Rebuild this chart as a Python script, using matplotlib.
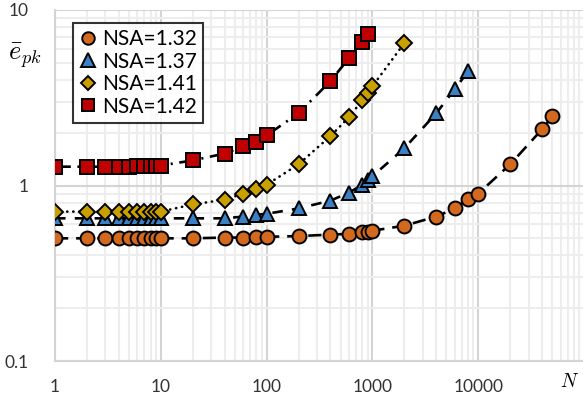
import numpy as np
import matplotlib
matplotlib.use('Agg')
import matplotlib.pyplot as plt
from matplotlib.lines import Line2D
from matplotlib.ticker import LogLocator, FixedLocator, NullFormatter

# data
n_low = [1, 2, 3, 4, 5, 6, 7, 8, 9, 10, 20, 40, 60, 80, 100, 200, 400, 600, 800, 900, 1000]

n_132 = n_low + [2000, 4000, 6000, 8000, 10000, 20000, 40000, 50000]
e_132 = [0.50, 0.50, 0.50, 0.50, 0.50, 0.50, 0.50, 0.50, 0.50, 0.50,
         0.50, 0.505, 0.505, 0.51, 0.51, 0.515, 0.525, 0.53, 0.54, 0.546, 0.553,
         0.59, 0.665, 0.74, 0.84, 0.90, 1.32, 2.09, 2.48]

n_137 = n_low + [2000, 4000, 6000, 8000]
e_137 = [0.65, 0.65, 0.65, 0.65, 0.65, 0.65, 0.65, 0.65, 0.65, 0.65,
         0.65, 0.65, 0.665, 0.68, 0.69, 0.74, 0.82, 0.91, 1.01, 1.08, 1.13,
         1.63, 2.58, 3.54, 4.48]

n_141 = n_low + [2000]
e_141 = [0.71, 0.71, 0.71, 0.71, 0.71, 0.71, 0.71, 0.71, 0.71, 0.71,
         0.78, 0.83, 0.90, 0.95, 1.01, 1.32, 1.91, 2.45, 3.06, 3.36, 3.68,
         6.48]

n_142 = [1, 2, 3, 4, 5, 6, 7, 8, 9, 10, 20, 40, 60, 80, 100, 200, 400, 600, 800, 900]
e_142 = [1.28, 1.28, 1.28, 1.28, 1.28, 1.29, 1.29, 1.29, 1.30, 1.30,
         1.39, 1.52, 1.67, 1.78, 1.93, 2.58, 3.93, 5.32, 6.56, 7.3]

labels = ['NSA=1.32', 'NSA=1.37', 'NSA=1.41', 'NSA=1.42']
colors = ['#D2691E', '#3A80C4', '#C9A000', '#C00000']
markers = ['o', '^', 'D', 's']
sizes = [10, 10.5, 8, 10]
dashes = [(5, 3), (4, 3.5), (0.1, 2.2), (6, 2.5, 0.8, 2.5)]

plt.rcParams['font.family'] = ['Lato', 'DejaVu Sans']
plt.rcParams['mathtext.fontset'] = 'cm'

fig = plt.figure(figsize=(5.83, 3.98), dpi=100)
ax = fig.add_axes([55 / 583, 1 - 361 / 398, 1 - 55 / 583 + 0.002, (361 - 10) / 398])

series = [(n_132, e_132), (n_137, e_137), (n_141, e_141), (n_142, e_142)]
handles = []
for i, (nx, ey) in enumerate(series):
    ln, = ax.plot(nx, ey, color='black', lw=1.9, dashes=dashes[i],
                  dash_capstyle='round' if i == 2 else 'butt',
                  marker=markers[i], ms=sizes[i], mfc=colors[i], mec='black',
                  mew=1.4, zorder=3 + i)
    handles.append(Line2D([], [], ls='none', marker=markers[i], ms=sizes[i] - 1,
                          mfc=colors[i], mec='black', mew=1.4))

ax.set_xscale('log')
ax.set_yscale('log')
ax.set_xlim(1, 1e5)
ax.set_ylim(0.1, 10)

ax.xaxis.set_major_locator(FixedLocator([1, 10, 100, 1000, 10000]))
ax.set_xticklabels(['1', '10', '100', '1000', '10000'])
ax.yaxis.set_major_locator(FixedLocator([0.1, 1, 10]))
ax.set_yticklabels(['0.1', '1', '10'])
ax.xaxis.set_minor_locator(LogLocator(base=10, subs=np.arange(2, 10), numticks=20))
ax.yaxis.set_minor_locator(LogLocator(base=10, subs=np.arange(2, 10), numticks=20))
ax.xaxis.set_minor_formatter(NullFormatter())
ax.yaxis.set_minor_formatter(NullFormatter())

ax.grid(True, which='major', color='#D4D4D4', lw=1.5)
ax.grid(True, which='minor', color='#EDEDED', lw=1.5)
ax.set_axisbelow(True)
ax.tick_params(which='both', length=0)
ax.tick_params(axis='x', pad=13, labelsize=12.5, colors='#333333')
ax.tick_params(axis='y', pad=19, labelsize=12.5, colors='#333333')
for s in ['top', 'right']:
    ax.spines[s].set_visible(False)
for s in ['left', 'bottom']:
    ax.spines[s].set_color('#D4D4D4')
    ax.spines[s].set_linewidth(1.5)

fig.text(25 / 583, 1 - 56 / 398, r'$\bar{e}_{pk}$', fontsize=19, ha='center', va='center')
fig.text(570 / 583, 1 - 381 / 398, r'$N$', fontsize=14, ha='center', va='center')

leg = ax.legend(handles, labels, loc='upper left',
                bbox_to_anchor=(73 / 583, 1 - 23 / 398), bbox_transform=fig.transFigure,
                fontsize=15, frameon=True, fancybox=False, handlelength=0.8,
                handletextpad=0.3, borderpad=0.3, labelspacing=0.12,
                borderaxespad=0)
leg.get_frame().set_edgecolor('black')
leg.get_frame().set_linewidth(1.5)
leg.set_zorder(10)

fig.savefig('out.png', dpi=100)
